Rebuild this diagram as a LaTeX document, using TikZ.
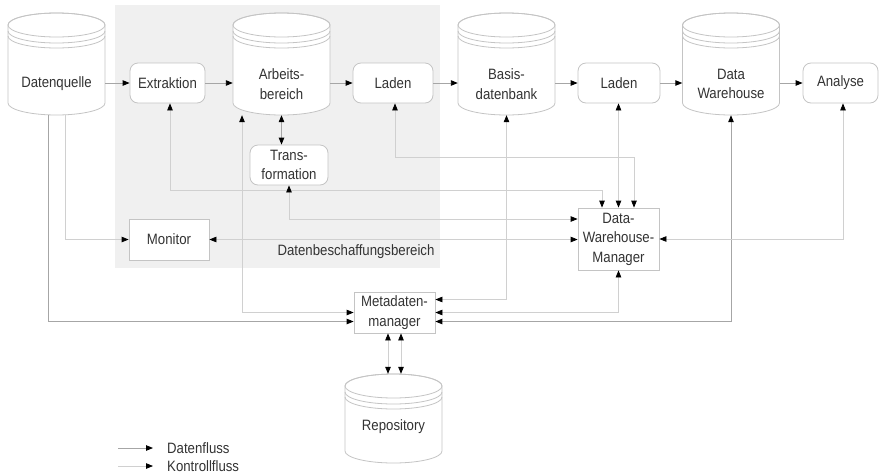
\documentclass[tikz,border=0pt]{standalone}
\usepackage{fontspec}
\setmainfont{Liberation Sans}[FakeStretch=0.88]
\usetikzlibrary{arrows.meta,calc}
\definecolor{shapeln}{HTML}{C4C4C4}
\definecolor{dataln}{HTML}{A6A6A6}
\definecolor{ctrlln}{HTML}{D0D0D0}
\definecolor{txtc}{HTML}{333333}
\definecolor{areac}{HTML}{F0F0F0}
\tikzset{
  >={Triangle[length=7pt,width=5.5pt,color=black]},
  txt/.style={font=\fontsize{15}{19.5}\selectfont, text=txtc, align=center, inner sep=0pt},
  procbox/.style={txt, draw=shapeln, fill=white, line width=0.8pt, rounded corners=8pt},
  sqbox/.style={txt, draw=shapeln, fill=white, line width=0.8pt},
  cylbox/.style={inner sep=0pt, draw=none},
  shapeline/.style={draw=shapeln, line width=0.8pt, fill=white},
  shapearc/.style={draw=shapeln, line width=0.8pt},
  dataflow/.style={draw=dataln, line width=0.9pt},
  ctrlflow/.style={draw=ctrlln, line width=0.8pt},
}
\newcommand\mycyl[6]{% name, cx, top, bottom, rx, text
  \node[cylbox, minimum width={2*#5}, minimum height={#4-#3}] (#1) at (#2,{(#3+#4)/2}) {};
  \path[shapeline] (#2-#5,#3+12) -- (#2-#5,#4-12) arc[start angle=180, end angle=0, x radius=#5, y radius=12] -- (#2+#5,#3+12) arc[start angle=0, end angle=-180, x radius=#5, y radius=12] -- cycle;
  \draw[shapearc] (#2,#3+12) ellipse[x radius=#5, y radius=12];
  \draw[shapearc] (#2-#5,#3+18) arc[start angle=180, end angle=0, x radius=#5, y radius=12];
  \draw[shapearc] (#2-#5,#3+23) arc[start angle=180, end angle=0, x radius=#5, y radius=12];
  \node[txt] (#1t) at (#2,{#3+71}) {#6};
}
\begin{document}
\begin{tikzpicture}[x=1pt,y=-1pt]
\useasboundingbox (0,0) rectangle (880,475);
\fill[white] (0,0) rectangle (880,475);
% acquisition area
\node[fill=areac, draw=none, minimum width=325pt, minimum height=263pt, inner sep=0pt] (area) at (277.5,136.5) {};
\node[txt] (arealbl) at (356,252) {Datenbeschaffungsbereich};

% cylinders
\mycyl{dq}{56.5}{13}{115}{48.5}{Datenquelle}
\mycyl{ab}{281.5}{13}{115}{48.5}{Arbeits-\\bereich}
\mycyl{bd}{506.5}{13}{115}{48.5}{Basis-\\datenbank}
\mycyl{dw}{731}{13}{115}{48.5}{Data\\Warehouse}
\mycyl{rep}{393.5}{374}{463}{48.5}{}
\node[txt] (reptxt) at (393.5,427) {Repository};

% process boxes
\node[procbox, minimum width=75pt, minimum height=40pt] (ext) at (167.5,83) {Extraktion};
\node[procbox, minimum width=80pt, minimum height=40pt] (lad1) at (393,83) {Laden};
\node[procbox, minimum width=82pt, minimum height=40pt] (lad2) at (619,83) {Laden};
\node[procbox, minimum width=75pt, minimum height=40pt] (ana) at (840.5,83) {Analyse};
\node[procbox, minimum width=78pt, minimum height=40pt] (trans) at (289,165) {Trans-\\formation};
\node[sqbox, minimum width=80pt, minimum height=41pt] (mon) at (169,239.5) {Monitor};
\node[sqbox, minimum width=81pt, minimum height=62pt] (dwm) at (618.5,239) {Data-\\Warehouse-\\Manager};
\node[sqbox, minimum width=81pt, minimum height=41pt] (meta) at (394.5,312.5) {Metadaten-\\manager};

% data flow (main row)
\draw[dataflow,->] (dq.east |- ext.west) -- (ext.west);
\draw[dataflow,->] (ext.east) -- (ext.east -| ab.west);
\draw[dataflow,->] (ab.east |- lad1.west) -- (lad1.west);
\draw[dataflow,->] (lad1.east) -- (lad1.east -| bd.west);
\draw[dataflow,->] (bd.east |- lad2.west) -- (lad2.west);
\draw[dataflow,->] (lad2.east) -- (lad2.east -| dw.west);
\draw[dataflow,->] (dw.east |- ana.west) -- (ana.west);
\draw[dataflow,<->] (ab.south) -- (ab.south |- trans.north);
\draw[dataflow,->] ([xshift=-8.5pt]dq.south) |- ([yshift=-9pt]meta.west);
\draw[dataflow,<->] (dw.south) |- ([yshift=-9pt]meta.east);

% control flow
\draw[ctrlflow,<->] ([xshift=2.5pt]ext.south) -- ([xshift=2.5pt]ext.south |- 0,190) -| ([xshift=-16.5pt]dwm.north);
\draw[ctrlflow,<->] ([xshift=2pt]lad1.south) -- ([xshift=2pt]lad1.south |- 0,157) -| ([xshift=15.5pt]dwm.north);
\draw[ctrlflow,<->] ([xshift=-0.5pt]lad2.south) -- (dwm.north);
\draw[ctrlflow,<->] (trans.south) |- ([yshift=20pt]dwm.west);
\draw[ctrlflow,<->] (mon.east) -- (mon.east -| dwm.west);
\draw[ctrlflow,<->] (dwm.east) -| ([xshift=2.5pt]ana.south);
\draw[ctrlflow,<->] (dwm.south) |- (meta.east);
\draw[ctrlflow,<->] (bd.south) |- ([yshift=13pt]meta.east);
\draw[ctrlflow,<->] ([xshift=-39.5pt]ab.south) |- (meta.west);
\draw[ctrlflow,->] ([xshift=8.5pt]dq.south) |- (mon.west);
\draw[ctrlflow,<->] ([xshift=-6.5pt]meta.south) -- ([xshift=-6.5pt]meta.south |- rep.north);
\draw[ctrlflow,<->] ([xshift=6.5pt]meta.south) -- ([xshift=6.5pt]meta.south |- rep.north);

% legend
\node[txt, anchor=west] (lg1) at (167,448) {Datenfluss};
\node[txt, anchor=west] (lg2) at (167,466) {Kontrollfluss};
\coordinate (lg1s) at (118,448);
\coordinate (lg2s) at (118,466);
\draw[dataflow,->] (lg1s) -- ([xshift=-14pt]lg1.west);
\draw[ctrlflow,->] (lg2s) -- ([xshift=-14pt]lg2.west);
\end{tikzpicture}
\end{document}
